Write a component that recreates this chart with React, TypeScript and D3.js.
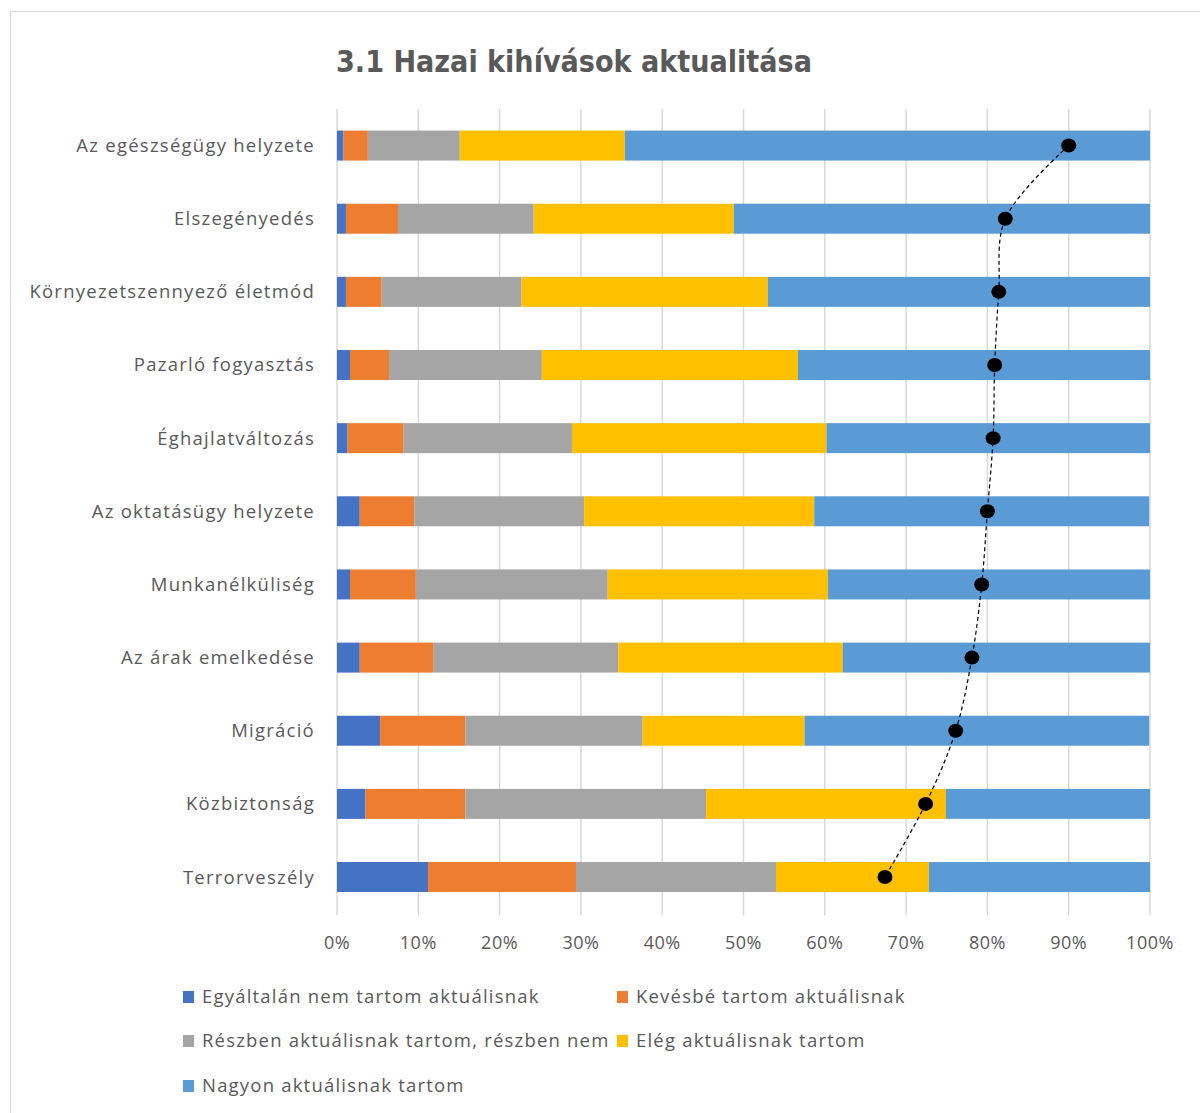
import React from "react";
import * as d3 from "d3";

const categories = [
  "Az egészségügy helyzete",
  "Elszegényedés",
  "Környezetszennyező életmód",
  "Pazarló fogyasztás",
  "Éghajlatváltozás",
  "Az oktatásügy helyzete",
  "Munkanélküliség",
  "Az árak emelkedése",
  "Migráció",
  "Közbiztonság",
  "Terrorveszély",
];

const seriesNames = [
  "Egyáltalán nem tartom aktuálisnak",
  "Kevésbé tartom aktuálisnak",
  "Részben aktuálisnak tartom, részben nem",
  "Elég aktuálisnak tartom",
  "Nagyon aktuálisnak tartom",
];

const seriesColors = ["#4472C4", "#ED7D31", "#A5A5A5", "#FFC000", "#5B9BD5"];

const egyaltalan = [0.8, 1.1, 1.1, 1.6, 1.3, 2.8, 1.6, 2.8, 5.3, 3.5, 11.2];
const kevesbe = [3.0, 6.4, 4.4, 4.8, 6.9, 6.7, 8.1, 9.1, 10.5, 12.3, 18.2];
const reszben = [11.3, 16.7, 17.2, 18.8, 20.7, 20.9, 23.6, 22.7, 21.8, 29.6, 24.6];
const eleg = [20.3, 24.6, 30.3, 31.5, 31.3, 28.3, 27.1, 27.6, 19.9, 29.5, 18.8];
const nagyon = [64.6, 51.2, 47.0, 43.3, 39.8, 41.2, 39.6, 37.8, 42.4, 25.1, 27.2];

const atlag = [90.0, 82.2, 81.4, 80.9, 80.7, 80.0, 79.3, 78.1, 76.1, 72.4, 67.4];

const xTicks = [0, 10, 20, 30, 40, 50, 60, 70, 80, 90, 100];

const title = "3.1 Hazai kihívások aktualitása";

export default function App() {
  const width = 1200;
  const height = 1113;
  const left = 337;
  const right = 1150;
  const top = 109;
  const bottom = 913.6;

  const x = d3.scaleLinear().domain([0, 100]).range([left, right]);
  const y = d3
    .scaleBand<string>()
    .domain(categories)
    .range([top, bottom])
    .paddingInner(0.59)
    .paddingOuter(0.295);

  const seriesValues = [egyaltalan, kevesbe, reszben, eleg, nagyon];
  const rows = categories.map((c, i) => {
    const o: any = { cat: c };
    seriesNames.forEach((s, k) => (o[s] = seriesValues[k][i]));
    return o;
  });
  const stacked = d3.stack<any>().keys(seriesNames)(rows);

  const bandCenter = (c: string) => (y(c) as number) + y.bandwidth() / 2;

  const line = d3
    .line<number>()
    .x((d) => x(d))
    .y((_, i) => bandCenter(categories[i]))
    .curve(d3.curveCatmullRom.alpha(0.5));

  const textColor = "#595959";
  const font = "'Open Sans', 'Liberation Sans', sans-serif";

  const legendItems = [
    { name: seriesNames[0], color: seriesColors[0], lx: 183, ly: 997 },
    { name: seriesNames[1], color: seriesColors[1], lx: 617, ly: 997 },
    { name: seriesNames[2], color: seriesColors[2], lx: 183, ly: 1041 },
    { name: seriesNames[3], color: seriesColors[3], lx: 617, ly: 1041 },
    { name: seriesNames[4], color: seriesColors[4], lx: 183, ly: 1086 },
  ];

  return (
    <svg
      width={width}
      height={height}
      style={{ position: "absolute", left: 0, top: 0, background: "#fff" }}
    >
      <rect x={0} y={0} width={width} height={height} fill="#fff" />
      <rect
        x={10.5}
        y={11.5}
        width={1200}
        height={1120}
        fill="#fff"
        stroke="#d9d9d9"
        strokeWidth={1}
      />
      <text
        x={574}
        y={72}
        textAnchor="middle"
        fill={textColor}
        fontFamily="'Liberation Sans Narrow', 'DejaVu Sans Condensed', 'Open Sans', sans-serif"
        fontWeight="bold"
        fontSize={30}
        textLength={476}
        lengthAdjust="spacingAndGlyphs"
      >
        {title}
      </text>

      {xTicks.map((t) => (
        <line
          key={t}
          x1={x(t)}
          x2={x(t)}
          y1={top}
          y2={bottom + 2}
          stroke="#d9d9d9"
          strokeWidth={1.5}
        />
      ))}

      {stacked.map((s, k) => (
        <g key={s.key} fill={seriesColors[k]}>
          {s.map((d, i) => (
            <rect
              key={i}
              x={x(d[0])}
              y={y(categories[i])}
              width={Math.max(0, x(d[1]) - x(d[0]))}
              height={y.bandwidth()}
            />
          ))}
        </g>
      ))}

      <path
        d={line(atlag) || ""}
        fill="none"
        stroke="#000"
        strokeWidth={1.2}
        strokeDasharray="4,3"
      />
      {atlag.map((v, i) => (
        <ellipse
          key={i}
          cx={x(v)}
          cy={bandCenter(categories[i])}
          rx={7.5}
          ry={7}
          fill="#000"
        />
      ))}

      {categories.map((c) => (
        <text
          key={c}
          x={315}
          y={bandCenter(c)}
          dy="0.35em"
          textAnchor="end"
          fill={textColor}
          fontFamily={font}
          fontSize={18.5}
          letterSpacing={1.25}
        >
          {c}
        </text>
      ))}

      {xTicks.map((t) => (
        <text
          key={t}
          x={x(t)}
          y={943}
          dy="0.35em"
          textAnchor="middle"
          fill={textColor}
          fontFamily={font}
          fontSize={18}
          letterSpacing={0.5}
        >
          {t}%
        </text>
      ))}

      {legendItems.map((it) => (
        <g key={it.name}>
          <rect x={it.lx} y={it.ly - 6} width={11} height={12} fill={it.color} />
          <text
            x={it.lx + 19}
            y={it.ly}
            dy="0.35em"
            fill={textColor}
            fontFamily={font}
            fontSize={18.5}
            letterSpacing={1.2}
          >
            {it.name}
          </text>
        </g>
      ))}
    </svg>
  );
}
